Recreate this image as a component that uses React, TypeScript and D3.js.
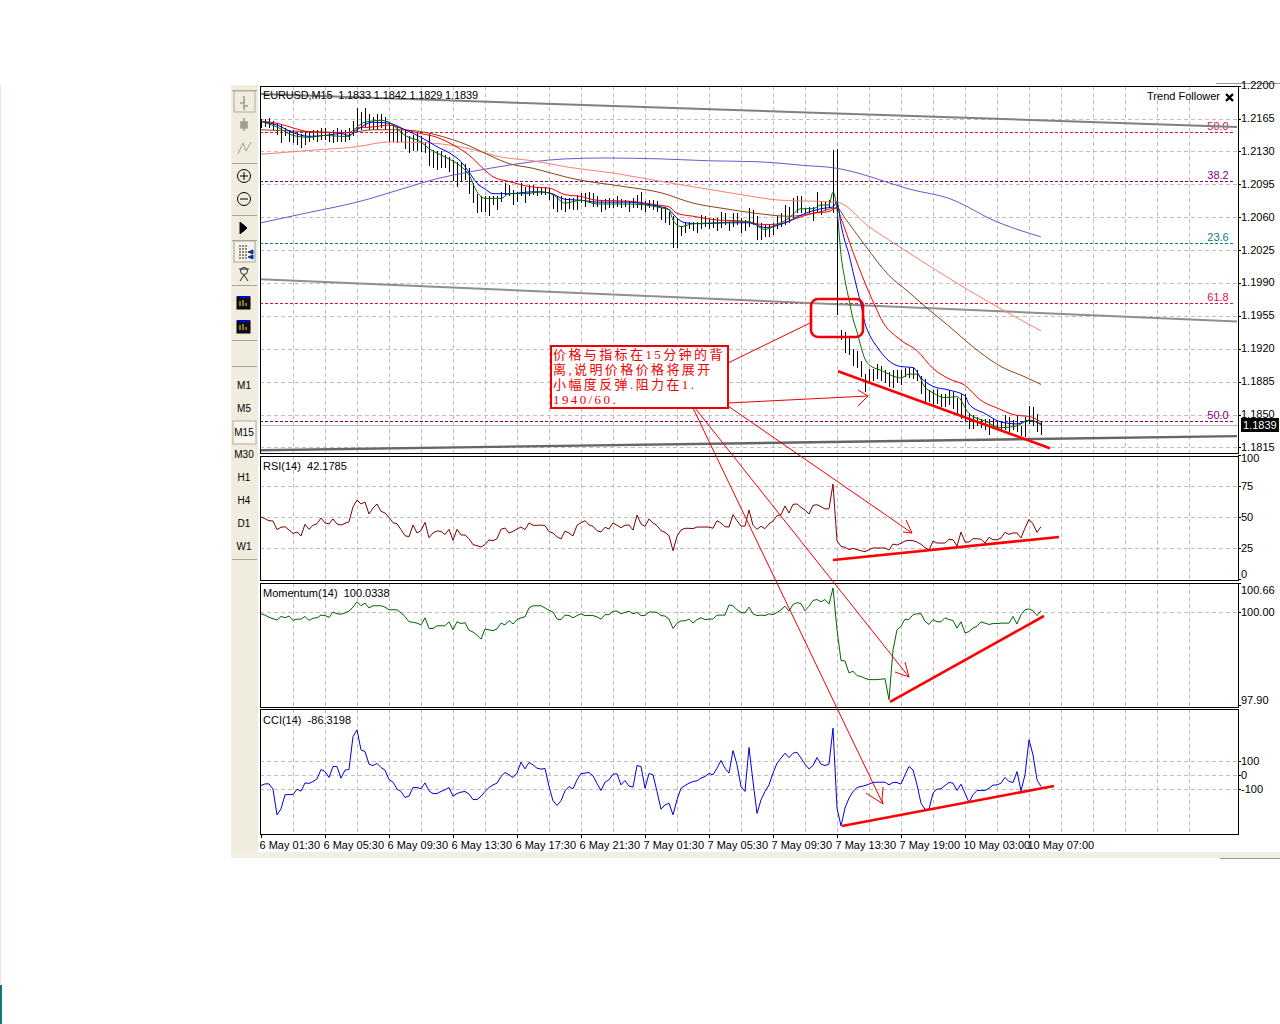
import { useEffect, useRef } from "react";
import * as d3 from "d3";

// bar highs and lows, in pips (12165 = 1.2165)
const highs = [12165,12165,12166,12162,12160,12158,12155,12153,12153,12151,12149,12151,12151,12153,12153,12155,12155,12151,12153,12155,12153,12153,12155,12162,12176,12172,12176,12170,12167,12170,12170,12167,12160,12158,12156,12155,12153,12146,12147,12151,12146,12140,12149,12131,12130,12130,12126,12124,12121,12119,12119,12117,12112,12096,12085,12083,12083,12082,12082,12083,12087,12096,12094,12089,12087,12096,12092,12094,12094,12092,12092,12092,12091,12085,12083,12082,12080,12080,
  12080,12084,12086,12086,12087,12086,12082,12078,12079,12080,12079,12082,12079,12078,12077,12080,12084,12087,12077,12078,12078,12077,12070,12071,12066,12061,12059,12050,12055,12055,12055,12055,12062,12061,12059,12059,12059,12066,12064,12055,12064,12064,12059,12057,12070,12068,12061,12054,12052,12052,12054,12061,12064,12073,12071,12080,12082,12082,12070,12071,12071,12087,12077,12077,12078,12131,12133,
  11940,11938,11934,11920,11918,11907,11893,11898,11898,11904,11902,11897,11895,11897,11897,11897,11899,11900,11900,11897,11891,11888,11876,11876,11877,11872,11872,11876,11874,11868,11872,11872,11852,11849,11847,11845,11845,11845,11845,11842,11842,11849,11847,11844,11849,11838,11847,11859,11858,11851,11842];
const lows = [12155,12156,12155,12153,12147,12139,12146,12140,12139,12137,12134,12137,12140,12142,12140,12142,12142,12140,12139,12140,12140,12140,12142,12146,12151,12153,12155,12153,12153,12153,12155,12153,12140,12140,12139,12140,12133,12128,12130,12130,12129,12128,12114,12112,12110,12112,12112,12108,12098,12092,12098,12100,12085,12075,12064,12066,12066,12061,12073,12068,12076,12084,12082,12073,12076,12082,12075,12082,12084,12082,12084,12084,12078,12069,12066,12068,12066,12069,
  12068,12068,12075,12071,12075,12071,12071,12066,12068,12070,12070,12071,12070,12071,12065,12070,12070,12068,12066,12070,12068,12066,12057,12054,12052,12027,12027,12040,12043,12047,12045,12043,12047,12050,12047,12048,12045,12048,12052,12045,12050,12052,12043,12045,12050,12052,12036,12036,12039,12039,12041,12047,12050,12052,12054,12059,12064,12064,12064,12064,12056,12064,12062,12068,12070,12064,11956,
  11929,11915,11913,11902,11899,11890,11874,11883,11886,11888,11886,11883,11879,11878,11883,11881,11890,11889,11888,11886,11872,11863,11863,11860,11861,11858,11858,11860,11856,11851,11845,11842,11835,11835,11838,11836,11833,11828,11835,11833,11833,11833,11831,11833,11831,11827,11826,11840,11838,11831,11828];

// moving averages, read at the bars where they bend
const greenBars = [0,4,8,12,16,20,22,24,26,30,32,36,40,42,46,50,52,54,56,60,62,66,70,73,76,80,84,92,96,100,102,103,105,108,114,118,122,126,129,132,135,138,140,142,143,144,145,146,147,148,149,150,151,152,155,160,162,164,166,168,171,174,177,181,185,189,192,195];
const greenVals = [12162,12156,12147,12145,12147,12146,12146,12156,12161,12163,12161,12147,12140,12133,12124,12114,12105,12087,12080,12080,12085,12085,12087,12084,12075,12078,12074,12074,12073,12070,12068,12057,12050,12053,12054,12055,12055,12047,12052,12059,12069,12069,12073,12073,12087,12068,12020,11993,11972,11952,11938,11922,11909,11903,11897,11889,11893,11893,11879,11873,11868,11869,11851,11843,11836,11838,11844,11839];
const blueBars = [0,4,8,12,16,20,22,24,28,32,36,40,44,48,50,52,54,56,58,62,68,72,76,80,84,92,96,100,102,104,106,110,116,122,126,129,132,136,140,143,144,145,146,147,148,149,150,151,152,154,157,160,163,165,168,172,176,177,181,185,189,192,195];
const blueVals = [12162,12158,12150,12146,12147,12149,12147,12153,12161,12160,12153,12145,12135,12126,12119,12108,12096,12090,12085,12085,12087,12086,12079,12078,12076,12076,12074,12071,12068,12059,12054,12053,12054,12054,12049,12051,12056,12064,12069,12071,12076,12052,12034,12020,12002,11984,11967,11947,11936,11922,11907,11901,11900,11889,11880,11876,11870,11861,11851,11842,11840,11844,11840];
const redBars = [0,4,8,12,20,22,24,28,32,36,40,44,48,52,56,58,62,68,72,76,80,84,92,96,99,102,104,108,114,120,126,130,134,138,142,144,145,148,151,154,155,160,164,168,172,176,180,184,189,192,195];
const redVals = [12162,12160,12155,12151,12150,12150,12155,12156,12158,12153,12149,12145,12137,12126,12110,12103,12098,12092,12091,12084,12082,12078,12077,12075,12073,12071,12064,12061,12057,12056,12052,12053,12059,12064,12066,12070,12059,12023,11990,11961,11952,11929,11918,11899,11888,11881,11865,11857,11849,11848,11842];
const brownBars = [0,12,22,28,34,40,46,52,56,62,68,76,78,90,100,108,116,124,132,140,144,146,151,157,162,166,172,178,185,191,195];
const brownVals = [12153,12151,12150,12153,12153,12151,12145,12136,12128,12117,12112,12103,12101,12093,12086,12075,12069,12064,12061,12066,12070,12059,12030,11998,11980,11965,11944,11922,11901,11890,11882];
const salmonBars = [0,12,24,32,42,52,60,68,77,88,100,110,120,130,138,144,152,162,177,195];
const salmonVals = [12127,12131,12135,12140,12139,12133,12124,12120,12113,12107,12098,12091,12084,12078,12077,12076,12050,12022,11982,11939];
const slateBars = [0,12,24,36,44,52,60,68,76,86,100,112,124,136,144,150,156,162,172,184,195];
const slateVals = [12054,12065,12076,12091,12101,12108,12114,12119,12122,12123,12122,12120,12119,12115,12112,12106,12098,12090,12080,12055,12039];

// indicator panes
const rsi = [50,48.7,47,46.8,39.8,41.7,42.2,39.5,36.8,37.9,34.7,44.1,40.1,43.3,44.6,49.2,45.2,44.4,48.4,44.4,43.5,44.9,46.2,58.1,63.7,60.5,62.1,52.4,57.3,60.5,54.6,53.2,49.7,45.4,44.6,39.8,34.9,34.1,43.5,37.1,39,45.7,33.3,37.1,38.7,38.4,35.8,40.1,31.2,40.1,35.5,35.5,32.5,27.7,26.9,25.8,27.7,31.5,30.9,32.5,40.1,41.1,37.1,38.4,40.3,41.9,39.8,45.2,43.3,43.3,43.5,43,38.2,37.1,34.1,32.3,38.7,37.1,34.7,43.3,45.4,47,43.8,42.5,39,37.9,41.7,40.3,45.2,43.3,41.4,43.3,43.5,39.5,51.6,44.4,42.5,48.4,45.2,
  43,39,37.6,34.9,22.8,34.4,39.5,40.9,40.9,40.6,41.9,41.9,41.9,41.9,40.9,47,45.2,42.2,41.9,51.9,47,42.7,42.7,55.6,43.3,40.1,42.5,40.6,44.4,46.8,51.1,51.9,58.9,53.2,60.2,60.5,57.8,55.6,52.4,59.4,59.9,58.3,56.5,56.7,76.6,30.9,26.3,25.5,23.7,24.7,23.7,22.8,22,23.7,25,25,25,25,23.4,28.2,27.4,28.8,30.6,31.2,30.9,29.8,28,25.3,23.4,30.6,29,29,29,32,31.7,26.6,37.9,29.8,29.8,32.5,32.5,32,29,33.6,31.7,31.7,33.1,37.6,36,37.1,37.1,33.1,41.1,48.1,44.4,37.6,42.2];
const momentum = [99.96,99.93,99.88,99.85,99.82,99.9,99.87,99.91,99.81,99.84,99.84,99.9,99.81,99.86,99.87,99.93,99.92,99.88,100,99.96,99.95,99.98,100.02,100.11,100.23,100.14,100.2,100.09,100.14,100.14,100.14,100.11,100.05,100.05,100.05,99.98,99.9,99.78,99.77,99.75,99.71,99.87,99.63,99.63,99.69,99.69,99.69,99.78,99.6,99.78,99.74,99.76,99.59,99.55,99.48,99.39,99.62,99.6,99.58,99.62,99.75,99.71,99.81,99.73,99.83,99.87,99.89,100.09,100.14,100.14,100.14,100.09,100.04,100,99.84,99.83,99.93,99.92,99.87,99.92,99.96,99.92,99.92,99.92,99.89,99.84,99.94,99.94,100.02,100.02,99.96,99.99,100.02,99.96,99.99,99.92,99.92,100,100,
  99.99,99.92,99.91,99.84,99.63,99.75,99.8,99.8,99.84,99.75,99.83,99.87,99.83,99.84,99.84,99.93,99.93,99.93,100.16,100.14,100.05,99.99,99.98,100.11,99.96,99.92,99.93,99.92,99.96,99.94,99.99,100.05,100.13,100.02,100.17,100.21,100.19,100.03,100.13,100.26,100.28,100.23,100.28,100.18,100.54,99.6,98.91,98.9,98.63,98.67,98.57,98.55,98.51,98.48,98.48,98.48,98.49,98.5,98.03,99.15,99.6,99.68,99.84,99.83,99.94,99.96,99.96,99.79,99.72,99.83,99.78,99.78,99.87,99.83,99.81,99.64,99.78,99.53,99.56,99.64,99.68,99.78,99.75,99.72,99.74,99.74,99.75,99.75,99.75,99.9,99.73,99.94,100.05,100.07,100.03,99.92,100.03];
const cci = [-79,-67,-67,-105,-288,-245,-145,-143,-143,-105,-119,-60,-64,-50,-31,36,21,-21,57,57,-26,31,36,271,319,176,164,74,64,79,50,31,-36,-55,-105,-121,-164,-155,-93,-93,-102,-60,-117,-136,-136,-121,-109,-93,-155,-136,-126,-121,-140,-179,-179,-155,-121,-93,-74,-62,-14,14,-2,-21,10,88,40,86,69,45,38,43,-86,-188,-221,-188,-117,-86,-102,-38,7,10,14,-10,-64,-114,-55,-38,2,5,-74,-43,-83,-90,64,57,-98,7,-2,
  -121,-248,-217,-205,-288,-181,-98,-79,-62,-50,-45,-26,-14,7,-2,45,100,45,10,171,69,-86,-121,193,-50,-278,-181,-121,-74,10,81,117,152,121,152,159,117,74,40,64,121,74,64,74,331,-240,-367,-240,-169,-121,-93,-86,-79,-69,-57,-55,-55,-55,-74,-57,-57,-69,-2,57,33,-74,-205,-248,-248,-133,-105,-102,-79,-57,-62,-114,-69,-133,-200,-145,-114,-114,-114,-98,-76,-74,-62,-21,-50,-57,21,-117,-2,248,140,-38,-86];

// tick labels
const priceTicks = [12200,12165,12130,12095,12060,12025,11990,11955,11920,11885,11850,11815];
const rsiTicks = [100,75,50,25,0];
const momentumTicks = [100.66,100,97.9];
const cciTicks = [100,0,-100];
const timeLabels = ["6 May 01:30","6 May 05:30","6 May 09:30","6 May 13:30","6 May 17:30","6 May 21:30","7 May 01:30","7 May 05:30","7 May 09:30","7 May 13:30","7 May 19:00","10 May 03:00","10 May 07:00"];
const timeframes = ["M1","M5","M15","M30","H1","H4","D1","W1"];

// hand drawn objects, as [bar, value]
const fibLevels = ["50.0","38.2","23.6","61.8","50.0"];
const fibPrices = [12151,12098,12032,11969,11843];
const fibColors = ["#e0103c","#800080","#008080","#dc143c","#800080"];
const channelTop = [[0,12191],[244,12156]];
const channelMid = [[0,11994],[244,11949]];
const channelLow = [[0,11812],[244,11827]];
const priceTrend = [[144.25,11896],[197.25,11814]];
const rsiTrend = [[143,15.3],[199.5,33.9]];
const momentumTrend = [[157.25,97.98],[195.75,99.91]];
const cciTrend = [[145.25,-368],[198.25,-82]];
const noteLines = ["价格与指标在15分钟的背","离,说明价格价格将展开","小幅度反弹.阻力在1.","1940/60."];

const FONT = "'Liberation Sans', Arial, sans-serif";
const LEFT = 260;
const RIGHT = 1238;

export default function App() {
  const svgRef = useRef<SVGSVGElement>(null);

  useEffect(() => {
    if (!svgRef.current) return;
    const svg = d3.select(svgRef.current);
    svg.selectAll("*").remove();

    const x = d3.scaleLinear().domain([0, 195]).range([261, 1041]);
    const yPrice = d3.scaleLinear().domain([12165, 11815]).range([118.5, 447.4]);
    const yRsi = d3.scaleLinear().domain([100, 0]).range([455, 579]);
    const yMom = d3.scaleLinear().domain([100, 98]).range([612, 701]);
    const yCci = d3.scaleLinear().domain([100, -100]).range([760.5, 788.5]);

    const panes = [
      { top: 86, bottom: 453, y: yPrice, ticks: priceTicks },
      { top: 456, bottom: 580, y: yRsi, ticks: rsiTicks.slice(1, 4) },
      { top: 583, bottom: 707, y: yMom, ticks: [100] },
      { top: 709, bottom: 834, y: yCci, ticks: cciTicks },
    ];

    // window chrome
    svg.append("rect").attr("x", 231).attr("y", 85).attr("width", 27).attr("height", 773).attr("fill", "#f0eddf");
    svg.append("rect").attr("x", 231).attr("y", 852).attr("width", 1049).attr("height", 6).attr("fill", "#f1eee2");
    svg.append("rect").attr("x", 0).attr("y", 85).attr("width", 1).attr("height", 900).attr("fill", "#fbdcdc");
    svg.append("rect").attr("x", 0).attr("y", 985).attr("width", 2).attr("height", 39).attr("fill", "#0a7a7a");
    svg.append("line").attr("x1", 1216).attr("x2", 1280).attr("y1", 83.5).attr("y2", 83.5).attr("stroke", "#999");
    svg.append("line").attr("x1", 1220).attr("x2", 1280).attr("y1", 858.5).attr("y2", 858.5).attr("stroke", "#999");
    drawToolbar(svg);

    // grid
    const grid = svg.append("g").attr("stroke", "#c2bcc4").attr("stroke-dasharray", "4,3").attr("shape-rendering", "crispEdges");
    panes.forEach((p) => {
      d3.range(8, 240, 8).forEach((b) => {
        const px = Math.round(x(b)) + 0.5;
        if (px < RIGHT) grid.append("line").attr("x1", px).attr("x2", px).attr("y1", p.top).attr("y2", p.bottom);
      });
      p.ticks.forEach((t) => {
        const py = Math.round(p.y(t)) + 0.5;
        if (py > p.top + 2) grid.append("line").attr("x1", LEFT).attr("x2", RIGHT).attr("y1", py).attr("y2", py);
      });
    });

    const pair = (xs: number[], ys: number[], color: string, yScale: d3.ScaleLinear<number, number>, width = 1, smooth = false) => {
      const line = d3
        .line<number>()
        .x((_, i) => x(xs[i]))
        .y((d) => yScale(d))
        .curve(smooth ? d3.curveMonotoneX : d3.curveLinear);
      svg.append("path").attr("d", line(ys)).attr("fill", "none").attr("stroke", color).attr("stroke-width", width).attr("stroke-linejoin", "round");
    };
    const seg = (pts: number[][], color: string, yScale: d3.ScaleLinear<number, number>, width: number) => {
      pair(pts.map((p) => p[0]), pts.map((p) => p[1]), color, yScale, width);
    };

    // fibo levels
    fibPrices.forEach((p, i) => {
      const py = Math.round(yPrice(p)) + 0.5;
      svg.append("line").attr("x1", LEFT).attr("x2", 1234).attr("y1", py).attr("y2", py).attr("stroke", fibColors[i]).attr("stroke-dasharray", "3,2").attr("shape-rendering", "crispEdges");
      svg.append("text").attr("x", 1218).attr("y", py - 3).attr("text-anchor", "middle").attr("font-family", FONT).attr("font-size", 11).attr("fill", fibColors[i]).text(fibLevels[i]);
    });

    // last price line
    const lastY = Math.round(yPrice(11839)) + 0.5;
    svg.append("line").attr("x1", LEFT).attr("x2", RIGHT).attr("y1", lastY).attr("y2", lastY).attr("stroke", "#b8b8b8").attr("shape-rendering", "crispEdges");

    // channel
    seg(channelTop, "#808080", yPrice, 2);
    seg(channelMid, "#8f8f8f", yPrice, 2);
    seg(channelLow, "#666", yPrice, 2.4);

    // bars
    svg.append("g").attr("stroke", "#000").attr("shape-rendering", "crispEdges")
      .selectAll("line").data(highs).enter().append("line")
      .attr("x1", (_, i) => Math.round(x(i)) + 0.5)
      .attr("x2", (_, i) => Math.round(x(i)) + 0.5)
      .attr("y1", (d) => yPrice(d))
      .attr("y2", (_, i) => yPrice(lows[i]));

    pair(slateBars, slateVals, "#6a5acd", yPrice, 1, true);
    pair(salmonBars, salmonVals, "#fa8072", yPrice, 1, true);
    pair(brownBars, brownVals, "#8b4513", yPrice, 1, true);
    pair(redBars, redVals, "#ff0000", yPrice, 1, true);
    pair(blueBars, blueVals, "#0000ff", yPrice, 1, true);
    pair(greenBars, greenVals, "#007000", yPrice, 1, true);

    // indicators
    const idx = d3.range(196);
    pair(idx, rsi, "#800000", yRsi);
    pair(idx, momentum, "#006400", yMom);
    pair(idx, cci, "#0000e0", yCci);

    // frames
    panes.forEach((p) => {
      svg.append("rect").attr("x", LEFT + 0.5).attr("y", p.top + 0.5).attr("width", RIGHT - LEFT).attr("height", p.bottom - p.top).attr("fill", "none").attr("stroke", "#000").attr("shape-rendering", "crispEdges");
    });

    // price axes
    const axis = (s: d3.ScaleLinear<number, number>, ticks: number[], fmt: (d: number) => string, nudge: (d: number) => number) => {
      const g = svg.append("g").attr("transform", `translate(${RIGHT},0)`).call(d3.axisRight(s).tickValues(ticks).tickSize(3).tickPadding(0).tickFormat((d) => fmt(+d)));
      g.select(".domain").remove();
      g.selectAll("text").attr("font-family", FONT).attr("font-size", 11).attr("fill", "#000").attr("dy", (d) => 3 + nudge(d as number));
      g.selectAll("line").attr("shape-rendering", "crispEdges");
    };
    axis(yPrice, priceTicks, (d) => (d / 10000).toFixed(4), () => 0);
    axis(yRsi, rsiTicks, (d) => String(d), (d) => (d === 100 ? 3 : d === 0 ? -5 : 0));
    axis(yMom, momentumTicks, (d) => d.toFixed(2), (d) => (d === 100.66 ? 8 : d === 97.9 ? -5 : 0));
    axis(yCci, cciTicks, (d) => String(d), () => 1);

    const lastBox = svg.append("g");
    lastBox.append("rect").attr("x", 1241).attr("y", 418).attr("width", 38).attr("height", 14).attr("fill", "#000");
    lastBox.append("text").attr("x", 1243).attr("y", 429).attr("font-family", FONT).attr("font-size", 11).attr("fill", "#fff").text("1.1839");

    // time axis
    const tg = svg.append("g").attr("transform", "translate(0,834)").call(
      d3.axisBottom(x).tickValues(timeLabels.map((_, i) => i * 16)).tickSize(4).tickPadding(3).tickFormat((_, i) => timeLabels[i])
    );
    tg.select(".domain").remove();
    tg.selectAll("text").attr("text-anchor", "start").attr("dx", -2).attr("font-family", FONT).attr("font-size", 11).attr("fill", "#000");
    tg.selectAll("line").attr("shape-rendering", "crispEdges");

    // pane captions
    const caption = (px: number, py: number, s: string, anchor = "start") =>
      svg.append("text").attr("x", px).attr("y", py).attr("text-anchor", anchor).attr("font-family", FONT).attr("font-size", 11).attr("fill", "#000").attr("xml:space", "preserve").text(s);
    caption(263, 99, "EURUSD,M15  1.1833 1.1842 1.1829 1.1839").attr("textLength", 215);
    caption(1220, 100, "Trend Follower", "end");
    caption(263, 470, "RSI(14)  42.1785");
    caption(263, 597, "Momentum(14)  100.0338");
    caption(263, 724, "CCI(14)  -86.3198");
    svg.append("path").attr("d", "M1226,94 L1233,101 M1233,94 L1226,101").attr("stroke", "#000").attr("stroke-width", 2.4);

    // trend lines
    seg(priceTrend, "#ff0000", yPrice, 2.6);
    seg(rsiTrend, "#ff0000", yRsi, 2.6);
    seg(momentumTrend, "#ff0000", yMom, 2.6);
    seg(cciTrend, "#ff0000", yCci, 2.6);

    // callout and arrows
    const red = svg.append("g").attr("fill", "none").attr("stroke", "#f00000");
    red.append("path").attr("d", "M728,363 L810,323");
    red.append("path").attr("d", "M728,403 L868,396 M858,390 L868,396 L858,406");
    red.append("path").attr("d", "M728,406 L912,533 M906,520 L912,533 L903,532");
    red.append("path").attr("d", "M695,408 L909,677 M905,662 L909,677 L895,672");
    red.append("path").attr("d", "M693,408 L883,804 M866,793 L883,804 L882,800 L883,787");
    red.append("rect").attr("x", 811).attr("y", 299).attr("width", 52).attr("height", 38).attr("rx", 7).attr("stroke-width", 2.6);
    svg.append("rect").attr("x", 551).attr("y", 346).attr("width", 177).attr("height", 62).attr("fill", "#fff").attr("stroke", "#f00000").attr("stroke-width", 2);
    noteLines.forEach((s, i) => {
      svg.append("text").attr("x", 553).attr("y", 359 + i * 15).attr("font-family", "'Liberation Serif','Noto Sans CJK SC',serif").attr("font-size", 13).attr("letter-spacing", 2.4).attr("fill", "#f00000").text(s);
    });
  }, []);

  const drawToolbar = (svg: d3.Selection<SVGSVGElement, unknown, null, undefined>) => {
    const bar = svg.append("g");
    const sep = (y: number) => bar.append("line").attr("x1", 232).attr("x2", 257).attr("y1", y + 0.5).attr("y2", y + 0.5).attr("stroke", "#a8a698");
    [90, 163, 215, 240, 285, 340, 366, 559].forEach(sep);
    bar.append("rect").attr("x", 234).attr("y", 91).attr("width", 21).attr("height", 21).attr("fill", "none").attr("stroke", "#b0ae9f");
    bar.append("path").attr("d", "M244,96 V110 M240,103 H244 M244,106 H248").attr("stroke", "#a09e90").attr("stroke-width", 1.6).attr("fill", "none");
    bar.append("path").attr("d", "M244,118 V131 M241,122 h6 v6 h-6 z").attr("stroke", "#a09e90").attr("stroke-width", 1.6).attr("fill", "#a09e90");
    bar.append("path").attr("d", "M238,154 L243,143 L246,151 L251,142").attr("stroke", "#a09e90").attr("fill", "none");
    [176, 199].forEach((cy, i) => {
      bar.append("circle").attr("cx", 244).attr("cy", cy).attr("r", 6.5).attr("fill", "none").attr("stroke", "#000");
      bar.append("path").attr("d", i === 0 ? `M240,${cy} H248 M244,${cy - 4} V${cy + 4}` : `M240,${cy} H248`).attr("stroke", "#000");
    });
    bar.append("path").attr("d", "M240,222 L247,228 L240,234 Z M240,225 H244 M240,228 H244 M240,231 H244").attr("fill", "#000").attr("stroke", "#000");
    bar.append("rect").attr("x", 234).attr("y", 241).attr("width", 21).attr("height", 21).attr("fill", "#f6f3e8").attr("stroke", "#a8a698");
    bar.append("path").attr("d", "M240,245 V259 M243,245 V259 M246,245 V259").attr("stroke", "#222").attr("stroke-dasharray", "2,1");
    bar.append("path").attr("d", "M253,250 L248,252 L253,254 Z M253,255 L248,257 L253,259 Z").attr("fill", "#1030a0").attr("stroke", "#1030a0");
    bar.append("circle").attr("cx", 244).attr("cy", 271).attr("r", 3.5).attr("fill", "none").attr("stroke", "#333");
    bar.append("path").attr("d", "M239,269 H249 M240,281 L244,275 L248,281").attr("stroke", "#222").attr("fill", "none");
    [303, 327].forEach((cy) => {
      bar.append("rect").attr("x", 237).attr("y", cy - 6).attr("width", 13).attr("height", 12).attr("fill", "#111").attr("stroke", "#000");
      bar.append("rect").attr("x", 237).attr("y", cy - 7).attr("width", 13).attr("height", 2).attr("fill", "#0000d0");
      bar.append("path").attr("d", `M240,${cy + 3} V${cy - 2} M243,${cy + 3} V${cy - 3} M246,${cy + 3} V${cy}`).attr("stroke", "#f0e040");
    });
    bar.append("rect").attr("x", 233).attr("y", 421).attr("width", 23).attr("height", 23).attr("fill", "#f8f6ee").attr("stroke", "#b0ae9f");
    const labelY = [385, 408, 432, 454, 477, 500, 523, 546];
    timeframes.forEach((t, i) => {
      bar.append("text").attr("x", 244).attr("y", labelY[i] + 3.5).attr("text-anchor", "middle").attr("font-family", FONT).attr("font-size", 10).attr("fill", "#000").text(t);
    });
  };

  return <svg ref={svgRef} width={1280} height={1024} style={{ position: "absolute", left: 0, top: 0, display: "block", background: "#fff" }} />;
}
